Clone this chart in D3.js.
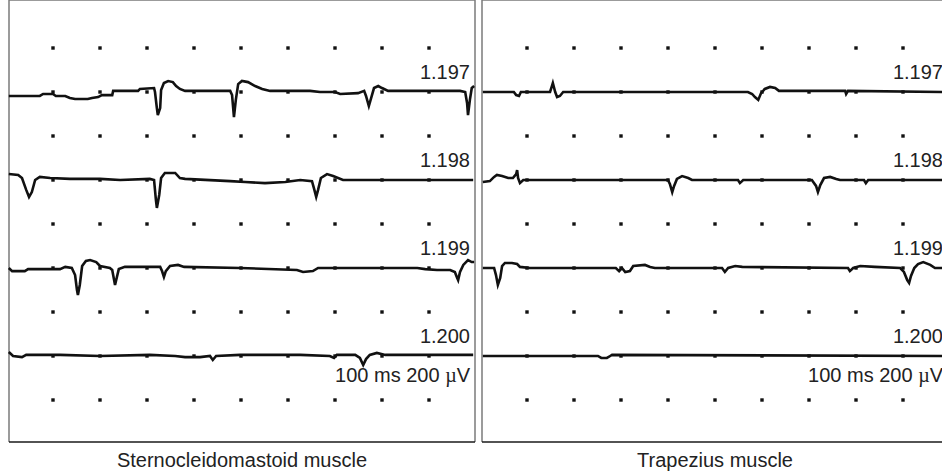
<!DOCTYPE html>
<html>
  <head>
    <meta charset="utf-8">
    <title>EMG traces</title>
    <script src="https://cdn.jsdelivr.net/npm/d3@7"></script>
    <style>
      body { margin: 0; background: #fff; }
      svg { display: block; font-family: "Liberation Sans", Arial, sans-serif; }
    </style>
  </head>

  <body>
    <svg id="chart" width="942" height="473"></svg>

    <script>
      // data: [time in ms, amplitude in µV], one array per sweep
      panelNames = ["Sternocleidomastoid muscle", "Trapezius muscle"];
      sweepLabels = ["1.197", "1.198", "1.199", "1.200"];
      calibration = "100 ms 200 ";
      gridTimes = [100, 200, 300, 400, 500, 600, 700, 800, 900];
      gridRows = [1, 2, 3, 4, 5, 6, 7, 8, 9];
      sweepRows = [2, 4, 6, 8];

      scm1197 = [[6,-18],[72,-18],[79,-9],[100,-9],[106,-18],[126,-18],[136,-27],[147,-32],[174,-32],[183,-27],[196,-23],[204,-14],[226,-14],[228,5],[281,5],[285,14],[315,18],[317,0],[321,-73],[323,-105],[328,-73],[330,9],[336,41],[345,50],[355,45],[362,27],[370,14],[381,5],[477,5],[481,-14],[485,-114],[489,-36],[494,36],[502,50],[515,45],[530,27],[545,14],[562,5],[647,5],[668,0],[700,0],[711,-9],[749,-5],[762,5],[766,-18],[772,-64],[777,-27],[783,18],[792,27],[800,18],[813,5],[966,5],[977,0],[981,-50],[983,-105],[987,-36],[991,18],[996,27]];
      scm1198 = [[6,27],[26,23],[34,9],[43,-45],[49,-77],[55,-55],[62,0],[72,14],[94,9],[136,5],[200,5],[243,0],[306,5],[315,0],[319,-91],[321,-127],[326,-68],[330,9],[338,32],[360,32],[370,9],[381,5],[477,-5],[509,-9],[551,-14],[594,-9],[626,0],[651,-5],[655,-36],[660,-77],[664,-45],[670,9],[683,27],[696,18],[717,0],[994,0]];
      scm1199 = [[6,0],[13,-14],[40,-14],[47,-5],[115,-5],[126,5],[140,0],[147,-32],[151,-100],[153,-123],[157,-77],[162,9],[170,32],[179,36],[192,27],[200,9],[221,0],[226,-9],[230,-55],[232,-77],[236,-41],[240,-5],[253,5],[328,5],[332,-14],[336,-41],[340,-14],[349,9],[366,14],[379,5],[498,0],[619,-9],[632,-18],[653,-14],[664,0],[875,0],[892,-5],[917,-9],[945,-9],[955,-18],[960,-45],[962,-55],[966,-18],[973,14],[983,36],[991,27],[996,27]];
      scm1200 = [[6,18],[15,0],[34,-5],[43,5],[115,5],[200,0],[306,5],[360,0],[381,-5],[413,-5],[434,0],[440,-18],[447,0],[498,5],[626,5],[689,0],[698,-9],[704,5],[743,5],[753,-9],[760,-41],[766,-14],[774,5],[789,14],[807,5],[994,5]];

      trap1197 = [[6,0],[72,0],[77,-14],[83,-18],[87,0],[149,0],[153,27],[155,41],[160,0],[164,-23],[170,-18],[177,0],[570,0],[579,-9],[585,-23],[592,-36],[598,-5],[606,14],[617,23],[628,18],[636,5],[777,5],[779,-9],[783,5],[990,0]];
      trap1198 = [[6,-9],[21,-5],[30,14],[36,23],[47,18],[60,9],[70,9],[77,27],[79,45],[81,9],[85,-14],[92,0],[400,0],[404,-18],[409,-55],[413,-27],[419,5],[430,18],[443,9],[451,0],[549,0],[553,-14],[560,0],[706,0],[715,-27],[719,-55],[724,-23],[732,9],[745,14],[758,5],[766,0],[817,0],[821,-14],[826,0],[990,0]];
      trap1199 = [[6,0],[30,0],[34,-32],[38,-77],[43,-45],[47,9],[53,23],[68,23],[79,18],[85,5],[106,0],[289,0],[296,-14],[302,0],[309,-18],[319,-14],[326,9],[351,14],[362,5],[372,0],[515,0],[521,-18],[528,0],[543,9],[558,5],[783,0],[787,-14],[794,0],[809,9],[840,5],[894,0],[902,-18],[909,-55],[913,-68],[917,-36],[924,0],[932,18],[943,27],[958,14],[968,0],[990,0]];
      trap1200 = [[6,0],[251,0],[258,-9],[270,-9],[277,0],[281,5],[990,0]];

      panelSweeps = [[scm1197, scm1198, scm1199, scm1200], [trap1197, trap1198, trap1199, trap1200]];

      // layout
      svg = d3.select("#chart");
      panelLeft = [6, 480];
      boxes = [[9, 475], [482, 948]];
      top = 9;
      bottom = 442;

      rowY = d3.scaleLinear().domain([0, 10]).range([4, 444]);
      amp = d3.scaleLinear().domain([-200, 200]).range([44, -44]);

      panelNames.forEach(function(name, p) {
        let x = d3.scaleLinear().domain([0, 1000]).range([panelLeft[p], panelLeft[p] + 470]);
        let g = svg.append("g");

        // frame
        g.append("line")
          .attr("x1", boxes[p][0]).attr("x2", boxes[p][1])
          .attr("y1", top).attr("y2", top)
          .style("stroke", "#7a7a7a").style("stroke-width", 1.5);
        g.selectAll(".side")
          .data(boxes[p])
          .enter().append("line")
            .attr("x1", d => d).attr("x2", d => d)
            .attr("y1", top).attr("y2", bottom)
            .style("stroke", "#7a7a7a").style("stroke-width", 1.5);
        g.append("line")
          .attr("x1", boxes[p][0]).attr("x2", boxes[p][1])
          .attr("y1", bottom).attr("y2", bottom)
          .style("stroke", "#1a1a1a").style("stroke-width", 1.5);

        // dot grid
        gridRows.forEach(function(r) {
          g.selectAll(".dot" + r)
            .data(gridTimes)
            .enter().append("rect")
              .attr("x", d => x(d) - 1.7)
              .attr("y", rowY(r) - 1.7)
              .attr("width", 3.4)
              .attr("height", 3.4)
              .style("fill", "#111");
        });

        // sweeps
        panelSweeps[p].forEach(function(sweep, i) {
          let base = rowY(sweepRows[i]);
          let line = d3.line()
            .x(d => x(d[0]))
            .y(d => base + amp(d[1]));
          g.append("path")
            .attr("d", line(sweep))
            .style("fill", "none")
            .style("stroke", "#111")
            .style("stroke-width", 2.6)
            .style("stroke-linejoin", "miter");

          g.append("text")
            .attr("x", boxes[p][1] - 5)
            .attr("y", base - 13)
            .attr("text-anchor", "end")
            .style("font-size", "20px")
            .style("fill", "#222")
            .text(sweepLabels[i]);
        });

        let cal = g.append("text")
          .attr("x", boxes[p][1] - 5)
          .attr("y", rowY(8) + 26)
          .attr("text-anchor", "end")
          .style("font-size", "20px")
          .style("fill", "#222");
        cal.append("tspan").text(calibration);
        cal.append("tspan").style("font-family", "'Liberation Serif', serif").text("\u00b5");
        cal.append("tspan").text("V");

        g.append("text")
          .attr("x", (boxes[p][0] + boxes[p][1]) / 2)
          .attr("y", 467)
          .attr("text-anchor", "middle")
          .style("font-size", "20px")
          .style("fill", "#222")
          .text(name);
      });
    </script>
  </body>
</html>
